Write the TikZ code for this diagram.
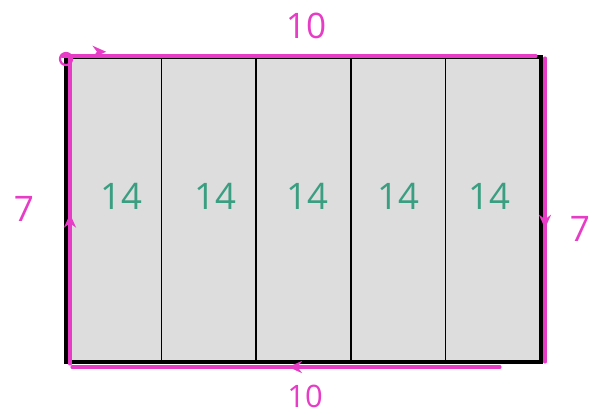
\documentclass[tikz,border=0pt]{standalone}
\usepackage{fontspec}
\usepackage{xcolor}
\usepackage{tikz}
\usetikzlibrary{arrows.meta}
\setmainfont{Open Sans}
\definecolor{pen}{HTML}{E63CC6}
\definecolor{ink}{HTML}{3A9E80}
\newcommand{\penarrow}{\tikz[x=1cm,y=1cm] \draw[pen,line width=1.6pt,-{Stealth[length=3.4mm,width=3mm]}] (0,0) -- +(.15,0);}

\begin{document}
\begin{tikzpicture}[x=0.025cm,y=-0.025cm,
	strip/.style={draw=black,line width=1.2pt,fill=gray!27,minimum width=2.365cm,minimum height=7.575cm,inner sep=0pt},
	num/.style={text=ink,font=\fontsize{26}{28}\selectfont},
	side/.style={text=pen,font=\fontsize{25}{27}\selectfont},
	trace/.style={pen,line width=2.2pt,line cap=round}]
	\useasboundingbox (0,0) rectangle (600,414);

	\node[strip] (s1) at (114.3,209.5){};
	\node[strip] (s2) at (208.9,209.5){};
	\node[strip] (s3) at (303.5,209.5){};
	\node[strip] (s4) at (398.1,209.5){};
	\node[strip] (s5) at (492.7,209.5){};
	\draw[line width=2.4pt] (s1.north west) rectangle (s5.south east);

	\node[num] (n1) at (121,196){14};
	\node[num] (n2) at (215,196){14};
	\node[num] (n3) at (307,196){14};
	\node[num] (n4) at (398,196){14};
	\node[num] (n5) at (489,196){14};

	\node[side] (top) at (306,26){10};
	\node[side,font=\fontsize{22}{24}\selectfont] (bottom) at (305,396){10};
	\node[side] (left) at (24,209){7};
	\node[side] (right) at (580,229){7};

	\coordinate (tl) at (62,56);
	\coordinate (tr) at (536,56);
	\coordinate (rt) at (545,58);
	\coordinate (rb) at (545,362);
	\coordinate (br) at (500,367);
	\coordinate (bl) at (72,367);
	\coordinate (lb) at (70,364);
	\coordinate (lt) at (70,58);
	\begin{scope}[every node/.style={sloped,allow upside down,inner sep=0pt}]
	%trace round the edge
	\draw[trace] (tl) -- node[pos=.08,yshift=3pt]{\penarrow} (tr);
	\draw[trace] (rt) -- node[pos=.54]{\penarrow} (rb);
	\draw[trace] (br) -- node[pos=.48]{\penarrow} (bl);
	\draw[trace] (lb) -- node[pos=.47]{\penarrow} (lt);
	\end{scope}
	\draw[trace,line width=1.6pt] (66,59) circle (6);
\end{tikzpicture}
\end{document}
